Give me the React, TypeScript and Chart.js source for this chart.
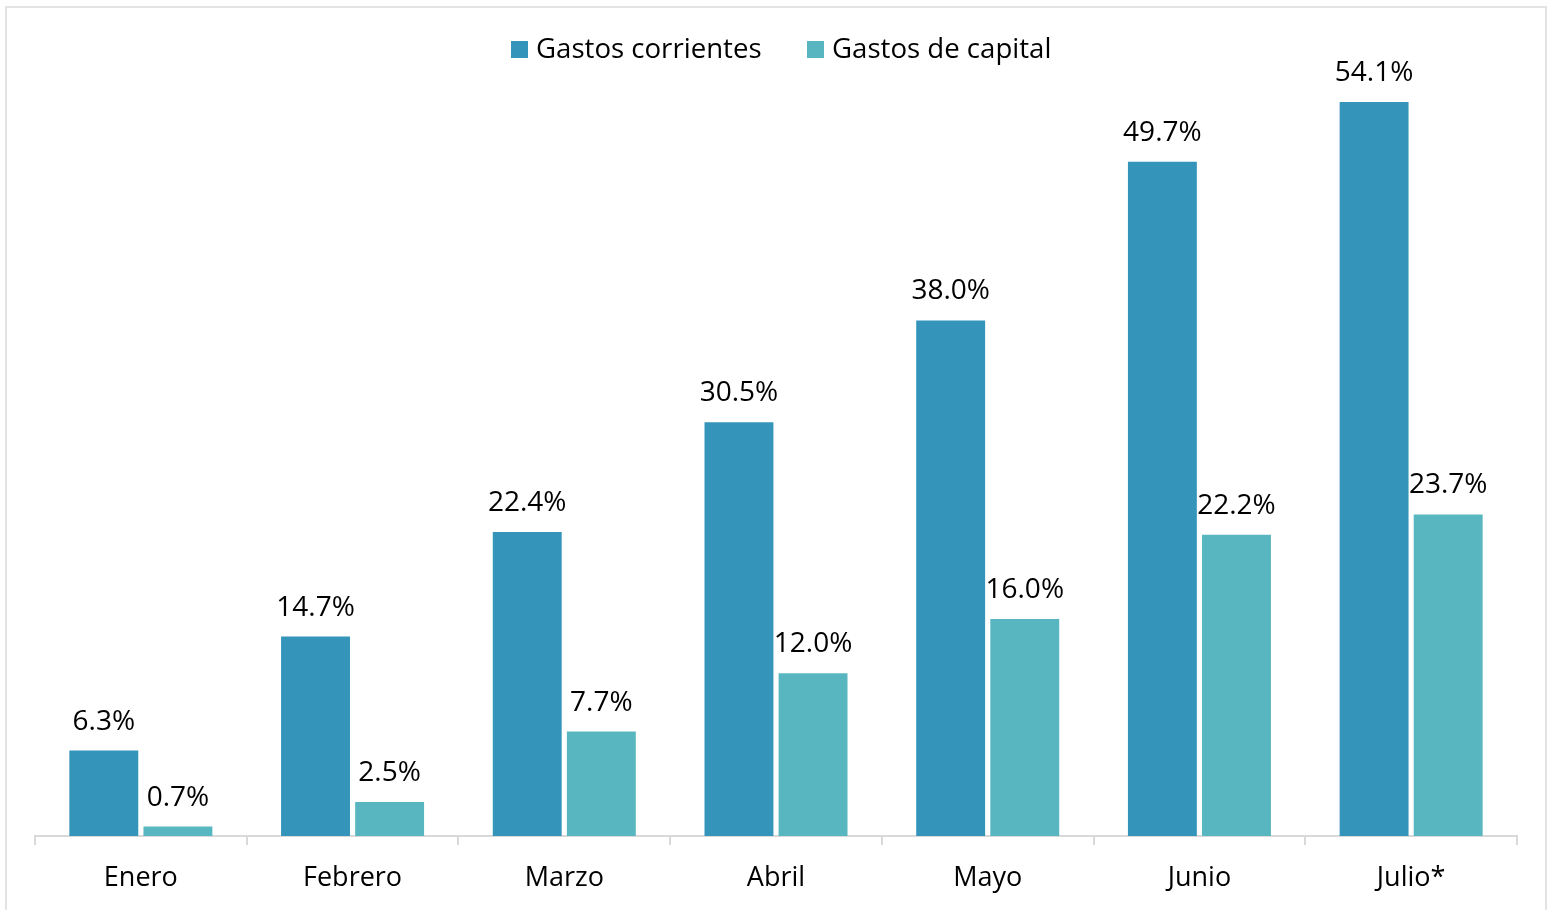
import React, { useEffect, useRef } from "react";
import { Chart, registerables } from "chart.js";

Chart.register(...registerables);

const categories = ["Enero", "Febrero", "Marzo", "Abril", "Mayo", "Junio", "Julio*"];
const gastosCorrientes = [6.3, 14.7, 22.4, 30.5, 38.0, 49.7, 54.1];
const gastosCapital = [0.7, 2.5, 7.7, 12.0, 16.0, 22.2, 23.7];
const seriesNames = ["Gastos corrientes", "Gastos de capital"];
const seriesColors = ["#3494BA", "#58B6C0"];

const FONT = "'Open Sans', 'Noto Sans', sans-serif";

const labelPlugin = {
  id: "barValueLabels",
  afterDatasetsDraw(chart: any) {
    const ctx = chart.ctx;
    ctx.save();
    ctx.font = `28px ${FONT}`;
    ctx.fillStyle = "#000000";
    ctx.textAlign = "center";
    ctx.textBaseline = "alphabetic";
    chart.data.datasets.forEach((ds: any, di: number) => {
      const meta = chart.getDatasetMeta(di);
      meta.data.forEach((bar: any, i: number) => {
        const v = ds.data[i] as number;
        ctx.fillText(`${v.toFixed(1)}%`, bar.x, bar.y - 21);
      });
    });
    ctx.restore();
  },
};

export default function App() {
  const canvasRef = useRef<HTMLCanvasElement | null>(null);

  useEffect(() => {
    if (!canvasRef.current) return;
    const chart = new Chart(canvasRef.current, {
      type: "bar",
      data: {
        labels: categories,
        datasets: [
          {
            label: seriesNames[0],
            data: gastosCorrientes,
            backgroundColor: seriesColors[0],
            categoryPercentage: 0.7,
            barPercentage: 0.93,
          },
          {
            label: seriesNames[1],
            data: gastosCapital,
            backgroundColor: seriesColors[1],
            categoryPercentage: 0.7,
            barPercentage: 0.93,
          },
        ],
      },
      options: {
        animation: false,
        responsive: false,
        maintainAspectRatio: false,
        layout: { padding: { left: 35, right: 31, top: 22, bottom: 0 } },
        plugins: {
          legend: { display: false },
          tooltip: { enabled: false },
        },
        scales: {
          x: {
            offset: true,
            grid: {
              offset: true,
              drawOnChartArea: false,
              drawTicks: true,
              tickLength: 9,
              color: "#d9d9d9",
              lineWidth: 2,
            },
            border: { display: true, color: "#d9d9d9", width: 2 },
            ticks: {
              color: "#000000",
              font: { family: FONT, size: 27 },
              padding: 17,
              maxRotation: 0,
            },
            afterFit(scale: any) {
              scale.height = 74;
            },
          },
          y: {
            display: false,
            min: 0,
            max: 60,
          },
        },
      },
      plugins: [labelPlugin],
    });
    return () => chart.destroy();
  }, []);

  const legendItem = (name: string, color: string, left: number) => (
    <div
      style={{
        position: "absolute",
        left,
        top: 30,
        display: "flex",
        alignItems: "center",
        whiteSpace: "nowrap",
      }}
    >
      <div style={{ width: 17, height: 17, background: color, marginRight: 8, marginTop: 4 }} />
      <span style={{ fontFamily: FONT, fontSize: 27.6, color: "#000", lineHeight: "34px" }}>{name}</span>
    </div>
  );

  return (
    <div style={{ position: "fixed", left: 0, top: 0, width: 1548, height: 910, background: "#fff", overflow: "hidden" }}>
      <div
        style={{
          position: "absolute",
          left: 5,
          top: 6,
          width: 1542,
          height: 910,
          boxSizing: "border-box",
          border: "2px solid #e3e3e3",
        }}
      />
      <canvas
        ref={canvasRef}
        width={1548}
        height={910}
        style={{ position: "absolute", left: 0, top: 0, width: 1548, height: 910 }}
      />
      {legendItem(seriesNames[0], seriesColors[0], 511)}
      {legendItem(seriesNames[1], seriesColors[1], 807)}
    </div>
  );
}
